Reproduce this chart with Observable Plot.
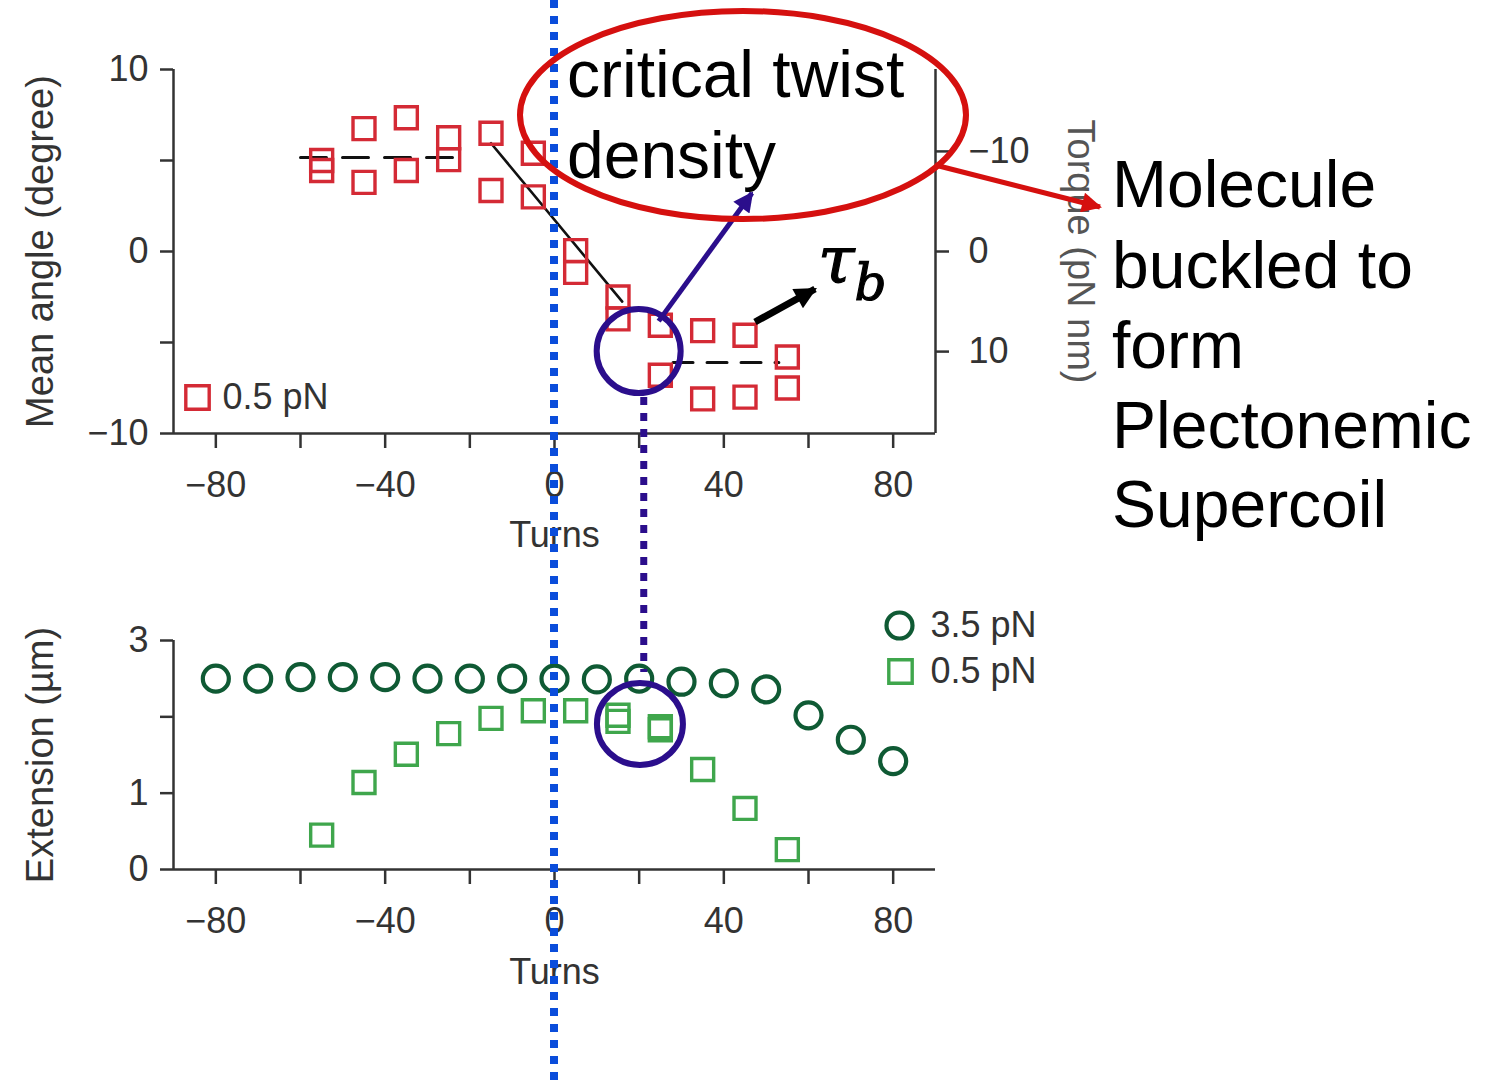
<!DOCTYPE html>
<html><head><meta charset="utf-8">
<script src="https://cdn.jsdelivr.net/npm/d3@7"></script>
<script src="https://cdn.jsdelivr.net/npm/@observablehq/plot@0.6"></script>
<style>
body{margin:0;background:#fff;}
#wrap{position:relative;width:1497px;height:1086px;overflow:hidden;background:#fff;font-family:"Liberation Sans",Arial,sans-serif;}
#wrap > svg, #wrap > div{position:absolute;left:0;}
</style></head><body><div id="wrap"></div>
<script>
// ---------------- data ----------------
// Top panel: mean angle (degree) vs turns at 0.5 pN (two measurements per turn value)
const angleTurns  = [-55, -45, -35, -25, -15, -5, 5, 15, 25, 35, 45, 55];
const angleFirst  = [5.0, 6.75, 7.35, 6.25, 6.5, 5.4, 0.05, -2.5, -4.05, -4.35, -4.6, -5.8];
const angleSecond = [4.45, 3.8, 4.45, 5.05, 3.35, 3.0, -1.15, -3.7, -6.8, -8.1, -8.0, -7.5];
// fitted lines: plateau (dashed), linear torque build-up (solid), buckled plateau (dashed)
const fitSegment = ["plateau", "plateau", "slope", "slope", "buckled", "buckled"];
const fitTurns   = [-60, -24, -15, 16, 28, 53];
const fitAngle   = [5.16, 5.16, 5.95, -2.75, -6.1, -6.1];
// Bottom panel: extension (µm) vs turns
const ext35Turns = [-80, -70, -60, -50, -40, -30, -20, -10, 0, 10, 20, 30, 40, 50, 60, 70, 80];
const ext35      = [2.5, 2.5, 2.52, 2.52, 2.52, 2.5, 2.5, 2.5, 2.5, 2.49, 2.5, 2.46, 2.44, 2.36, 2.02, 1.70, 1.42];
const ext05Turns = [-55, -45, -35, -25, -15, -5, 5, 15, 25, 35, 45, 55];
const ext05      = [0.45, 1.14, 1.51, 1.78, 1.98, 2.08, 2.08, 2.02, 1.87, 1.31, 0.80, 0.26];
const ext05DupTurns = [15, 25];
const ext05Dup      = [1.94, 1.83];
// axes
const xTicks = [-80, -60, -40, -20, 0, 20, 40, 60, 80];
const xLabeled = [-80, -40, 0, 40, 80];
const angleTicks = [-10, -5, 0, 5, 10];
const angleLabeled = [-10, 0, 10];
const torqueTicks = [-10, 0, 10];
const anglePerTorque = -0.55;   // right axis: torque (pN nm) mapped onto the angle scale
const extTicks = [0, 1, 2, 3];
const extLabeled = [0, 1, 3];
const legendTop = ["0.5 pN"];
const legendBottom = ["3.5 pN", "0.5 pN"];

// ---------------- styles ----------------
const W = 1497;
const FS = 36, FT = 38;
const FONT = "'Liberation Sans', Arial, Helvetica, sans-serif";
const AX = "#333";
const RED = "#d42a35", DKGREEN = "#0f5a34", LTGREEN = "#3fa64c";
const fmt = d => (d < 0 ? "\u2212" + Math.abs(d) : String(d));
const baseStyle = {fontFamily: FONT, fontSize: FS + "px", color: AX, background: "transparent", overflow: "visible"};

const angleRows = angleTurns.flatMap((t, i) => [{t, v: angleFirst[i]}, {t, v: angleSecond[i]}]);
const fitRows = fitTurns.map((t, i) => ({t, v: fitAngle[i], s: fitSegment[i]}));

const topChart = Plot.plot({
  width: W, height: 560,
  marginLeft: 173, marginRight: W - 935, marginTop: 69, marginBottom: 127,
  x: {domain: [-90, 90]},
  y: {domain: [-10, 10]},
  style: baseStyle,
  marks: [
    Plot.ruleY([-10], {stroke: AX, strokeWidth: 2.5}),
    Plot.ruleX([-90], {stroke: AX, strokeWidth: 2.5}),
    Plot.ruleX([90], {stroke: AX, strokeWidth: 2.5}),
    Plot.axisX({ticks: xTicks, tickSize: 15, tickPadding: 23, tickFormat: d => xLabeled.includes(d) ? fmt(d) : "", label: null, stroke: AX, strokeWidth: 2.5}),
    Plot.axisY({anchor: "left", ticks: angleTicks, tickSize: 13, tickPadding: 12, tickFormat: d => angleLabeled.includes(d) ? fmt(d) : "", label: null, stroke: AX, strokeWidth: 2.5}),
    Plot.axisY({anchor: "right", ticks: torqueTicks.map(t => t * anglePerTorque), tickSize: 13, tickPadding: 20,
      tickFormat: a => fmt(Math.round(a / anglePerTorque)), label: null, stroke: AX, strokeWidth: 2.5}),
    Plot.text(["Mean angle (degree)"], {frameAnchor: "left", rotate: -90, dx: -133, textAnchor: "middle", lineAnchor: "middle", fontSize: FT, fill: AX}),
    Plot.text(["Turns"], {frameAnchor: "bottom", dy: 102, textAnchor: "middle", lineAnchor: "middle", fontSize: FS, fill: AX}),
    Plot.text(["Torque (pN nm)"], {frameAnchor: "right", rotate: 90, dx: 145, textAnchor: "middle", lineAnchor: "middle", fontSize: FT, fill: "#555"}),
    Plot.line(fitRows.filter(d => d.s === "plateau"), {x: "t", y: "v", stroke: "#111", strokeWidth: 3, strokeDasharray: "26,16"}),
    Plot.line(fitRows.filter(d => d.s === "slope"), {x: "t", y: "v", stroke: "#111", strokeWidth: 2.6}),
    Plot.line(fitRows.filter(d => d.s === "buckled"), {x: "t", y: "v", stroke: "#111", strokeWidth: 3, strokeDasharray: "20,14"}),
    Plot.dot(angleRows, {x: "t", y: "v", symbol: "square", r: 12.4, stroke: RED, strokeWidth: 3.4, fill: "none"}),
    // legend
    Plot.dot(legendTop, {frameAnchor: "bottom-left", dx: 24, dy: -36, symbol: "square", r: 13.2, stroke: RED, strokeWidth: 3.4, fill: "none"}),
    Plot.text(legendTop, {frameAnchor: "bottom-left", dx: 49, dy: -36, textAnchor: "start", lineAnchor: "middle", fontSize: FS, fill: AX})
  ]
});
topChart.style.top = "0px";

const ext35Rows = ext35Turns.map((t, i) => ({t, v: ext35[i]}));
const ext05Rows = ext05Turns.map((t, i) => ({t, v: ext05[i]})).concat(ext05DupTurns.map((t, i) => ({t, v: ext05Dup[i]})));

const botChart = Plot.plot({
  width: W, height: 526,
  marginLeft: 173, marginRight: W - 935, marginTop: 80, marginBottom: 217,
  x: {domain: [-90, 90]},
  y: {domain: [0, 3]},
  style: baseStyle,
  marks: [
    Plot.ruleY([0], {stroke: AX, strokeWidth: 2.5}),
    Plot.ruleX([-90], {stroke: AX, strokeWidth: 2.5}),
    Plot.axisX({ticks: xTicks, tickSize: 15, tickPadding: 23, tickFormat: d => xLabeled.includes(d) ? fmt(d) : "", label: null, stroke: AX, strokeWidth: 2.5}),
    Plot.axisY({anchor: "left", ticks: extTicks, tickSize: 13, tickPadding: 12, tickFormat: d => extLabeled.includes(d) ? fmt(d) : "", label: null, stroke: AX, strokeWidth: 2.5}),
    Plot.text(["Extension (\u00b5m)"], {frameAnchor: "left", rotate: -90, dx: -133, textAnchor: "middle", lineAnchor: "middle", fontSize: FT, fill: AX}),
    Plot.text(["Turns"], {frameAnchor: "bottom", dy: 103, textAnchor: "middle", lineAnchor: "middle", fontSize: FS, fill: AX}),
    Plot.dot(ext35Rows, {x: "t", y: "v", r: 13, stroke: DKGREEN, strokeWidth: 4.2, fill: "none"}),
    Plot.dot(ext05Rows, {x: "t", y: "v", symbol: "square", r: 12.4, stroke: LTGREEN, strokeWidth: 3.4, fill: "none"}),
    // legend
    Plot.dot([legendBottom[0]], {frameAnchor: "top-right", dx: -36, dy: -15, r: 13, stroke: DKGREEN, strokeWidth: 4.2, fill: "none"}),
    Plot.dot([legendBottom[1]], {frameAnchor: "top-right", dx: -35, dy: 31, symbol: "square", r: 13.2, stroke: LTGREEN, strokeWidth: 3.4, fill: "none"}),
    Plot.text([legendBottom[0]], {frameAnchor: "top-right", dx: -5, dy: -15, textAnchor: "start", lineAnchor: "middle", fontSize: FS, fill: AX}),
    Plot.text([legendBottom[1]], {frameAnchor: "top-right", dx: -5, dy: 31, textAnchor: "start", lineAnchor: "middle", fontSize: FS, fill: AX})
  ]
});
const BOT_TOP = 560;
botChart.style.top = BOT_TOP + "px";

const wrap = document.getElementById("wrap");
wrap.appendChild(topChart);
wrap.appendChild(botChart);

// ---------------- annotation overlay ----------------
const xs = topChart.scale("x"), ysA = topChart.scale("y"), ysE = botChart.scale("y");
const X = v => xs.apply(v);
const YA = v => ysA.apply(v);
const YE = v => BOT_TOP + ysE.apply(v);

const ov = d3.create("svg").attr("width", W).attr("height", 1086)
  .style("position", "absolute").style("top", "0px").style("left", "0px").style("overflow", "visible");
const defs = ov.append("defs");
function marker(id, color, w, h) {
  defs.append("marker").attr("id", id).attr("viewBox", "0 0 10 10").attr("refX", 9).attr("refY", 5)
    .attr("markerUnits", "userSpaceOnUse").attr("markerWidth", w).attr("markerHeight", h).attr("orient", "auto")
    .append("path").attr("d", "M0,0 L10,5 L0,10 z").attr("fill", color);
}
const PURPLE = "#2b0e8c", BLUE = "#0a4ddb", ARED = "#d5100f";
marker("mP", PURPLE, 24, 20);
marker("mK", "#000", 26, 22);
marker("mR", ARED, 26, 20);

// blue dotted line at zero turns
ov.append("line").attr("x1", X(0)).attr("x2", X(0)).attr("y1", 0).attr("y2", 1086)
  .attr("stroke", BLUE).attr("stroke-width", 8).attr("stroke-dasharray", "8,8");

// purple circles at the buckling point (~20 turns)
const cTop = {x: X(20), y: YA(-5.5)}, cBot = {x: X(20.3), y: YE(1.9)};
ov.append("circle").attr("cx", cTop.x).attr("cy", cTop.y).attr("r", 42)
  .attr("fill", "none").attr("stroke", PURPLE).attr("stroke-width", 6);
ov.append("ellipse").attr("cx", cBot.x).attr("cy", cBot.y).attr("rx", 43).attr("ry", 41)
  .attr("fill", "none").attr("stroke", PURPLE).attr("stroke-width", 6);
// purple dotted connector
ov.append("line").attr("x1", X(21.2)).attr("x2", X(21.2)).attr("y1", cTop.y + 46).attr("y2", cBot.y - 52)
  .attr("stroke", PURPLE).attr("stroke-width", 7).attr("stroke-dasharray", "8,8");
// purple arrow to the text
ov.append("line").attr("x1", cTop.x + 20).attr("y1", cTop.y - 30).attr("x2", 752).attr("y2", 193)
  .attr("stroke", PURPLE).attr("stroke-width", 5).attr("marker-end", "url(#mP)");

// red ellipse
ov.append("ellipse").attr("cx", 743).attr("cy", 115).attr("rx", 223).attr("ry", 104)
  .attr("fill", "none").attr("stroke", ARED).attr("stroke-width", 6);
ov.append("line").attr("x1", 935).attr("y1", 165).attr("x2", 1100).attr("y2", 207)
  .attr("stroke", ARED).attr("stroke-width", 5).attr("marker-end", "url(#mR)");

// black arrow to tau_b
ov.append("line").attr("x1", 755).attr("y1", 322).attr("x2", 815).attr("y2", 289)
  .attr("stroke", "#000").attr("stroke-width", 7).attr("marker-end", "url(#mK)");

// texts
const tx = ov.append("g").attr("font-family", FONT).attr("font-size", 66).attr("fill", "#000");
tx.append("text").attr("x", 567).attr("y", 97).text("critical twist");
tx.append("text").attr("x", 567).attr("y", 178).text("density");
const mol = ["Molecule", "buckled to", "form", "Plectonemic", "Supercoil"];
const molY = [207, 288, 368, 448, 527];
mol.forEach((s, i) => tx.append("text").attr("x", 1112).attr("y", molY[i]).text(s));

const tau = ov.append("text").attr("x", 818).attr("y", 283)
  .attr("font-family", "'DejaVu Serif', 'Liberation Serif', serif").attr("font-style", "italic")
  .attr("fill", "#000").attr("stroke", "#000").attr("stroke-width", 1.2);
tau.append("tspan").attr("font-size", 66).text("\u03c4");
tau.append("tspan").attr("font-size", 50).attr("dy", 17).attr("dx", 0).text("b");

wrap.appendChild(ov.node());
</script></body></html>
